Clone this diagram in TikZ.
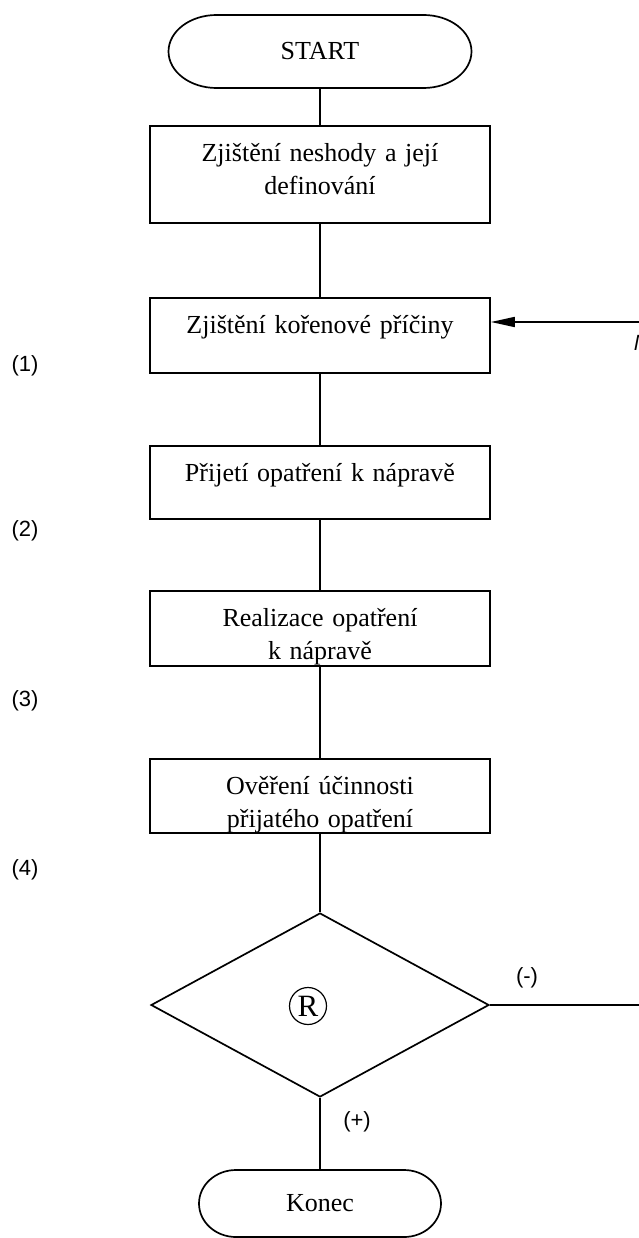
\documentclass[tikz,border=0pt]{standalone}
\usepackage{fontspec}
\setmainfont{Liberation Serif}
\newfontfamily\labelsans{Liberation Sans}
\usetikzlibrary{arrows.meta,shapes.geometric}
\begin{document}
\begin{tikzpicture}[x=1pt,y=1pt,
  line width=1.7pt,
  stepbox/.style={draw, anchor=north, inner sep=0pt, minimum width=340pt,
    text width=330pt, align=center, font=\fontsize{26}{33}\selectfont,
    text height=36pt},
  termbox/.style={inner sep=0pt, outer sep=0pt, font=\fontsize{26}{33}\selectfont},
  tag/.style={font=\labelsans\fontsize{22}{26}\selectfont, inner sep=0pt},
  conn/.style={line width=1.7pt},
]
\useasboundingbox (0,0) rectangle (638,-1238);

% terminal: START
\node[termbox, minimum width=303pt, minimum height=73pt] (start) at (320,-51.5) {START};
\draw ([xshift=48pt]start.north west) -- ([xshift=-48pt]start.north east)
  arc[start angle=90, end angle=-90, x radius=48pt, y radius=36.5pt]
  -- ([xshift=48pt]start.south west)
  arc[start angle=270, end angle=90, x radius=48pt, y radius=36.5pt] -- cycle;

% process steps
\node[stepbox, text depth=61pt] (b1) at (320,-125) {Zjištění neshody a její\\ definování};
\node[stepbox, text depth=39pt] (b2) at (320,-297) {Zjištění kořenové příčiny};
\node[stepbox, text depth=37pt] (b3) at (320,-445) {Přijetí opatření k nápravě};
\node[stepbox, text depth=39pt] (b4) at (320,-590) {Realizace opatření\\ k nápravě};
\node[stepbox, text depth=38pt] (b5) at (320,-758) {Ověření účinnosti\\ přijatého opatření};

% decision
\node[diamond, draw, inner sep=0pt, minimum width=338pt, minimum height=184pt] (dec) at (320,-1005) {};
\node[circle, draw, line width=1.2pt, minimum size=37pt, inner sep=0pt,
  font=\fontsize{31}{31}\selectfont] (rmark) at (308,-1006) {R};

% terminal: Konec
\node[termbox, minimum width=242pt, minimum height=67pt] (konec) at (320,-1203.5) {Konec};
\draw ([xshift=37pt]konec.north west) -- ([xshift=-37pt]konec.north east)
  arc[start angle=90, end angle=-90, x radius=37pt, y radius=33.5pt]
  -- ([xshift=37pt]konec.south west)
  arc[start angle=270, end angle=90, x radius=37pt, y radius=33.5pt] -- cycle;

% connectors
\draw[conn] (start.south) -- (b1.north);
\draw[conn] (b1.south) -- (b2.north);
\draw[conn] (b2.south) -- (b3.north);
\draw[conn] (b3.south) -- (b4.north);
\draw[conn] (b4.south) -- (b5.north);
\draw[conn] (b5.south) -- (dec.north);
\draw[conn] (dec.south) -- (konec.north);

% feedback: out of the decision, back into the root-cause step
\coordinate (fbout) at (640,-1005);
\coordinate (fbin) at (640,-322);
\draw[conn] (dec.east) -- (fbout);
\draw[conn, -{Triangle[length=24pt,width=10pt]}] (fbin) -- (b2.east |- fbin);
\node[tag, anchor=base west, font=\labelsans\itshape\fontsize{22}{26}\selectfont] (fbtag) at (633,-350) {N};

% step numbers and branch marks
\node[tag] (n1) at (25,-366) {(1)};
\node[tag] (n2) at (25,-531) {(2)};
\node[tag] (n3) at (25,-701) {(3)};
\node[tag] (n4) at (25,-870) {(4)};
\node[tag] (neg) at (527,-978) {(-)};
\node[tag] (pos) at (357,-1122) {(+)};
\end{tikzpicture}
\end{document}
